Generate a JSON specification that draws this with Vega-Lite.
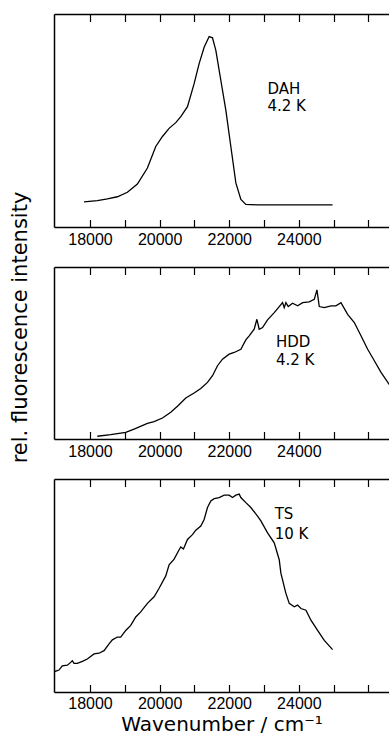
{
  "$schema": "https://vega.github.io/schema/vega-lite/v6.json",
  "padding": {"left": 8, "top": 13, "right": 0, "bottom": 0},
  "background": "white",
  "config": {
    "view": {"stroke": null},
    "axis": {
      "domainColor": "black", "domainWidth": 1.5,
      "tickColor": "black", "tickWidth": 1.2,
      "grid": false, "labelColor": "black", "titleColor": "black"
    }
  },
  "datasets": {
    "dah": [
      {"wn": 17827, "I": 11.8}, {"wn": 18211, "I": 12.4}, {"wn": 18499, "I": 13.2},
      {"wn": 18786, "I": 14.2}, {"wn": 19074, "I": 16.3}, {"wn": 19361, "I": 20.2},
      {"wn": 19649, "I": 27.7}, {"wn": 19889, "I": 37.8}, {"wn": 20081, "I": 42.5},
      {"wn": 20272, "I": 46.3}, {"wn": 20464, "I": 49.0}, {"wn": 20608, "I": 51.8},
      {"wn": 20800, "I": 56.5}, {"wn": 20991, "I": 67.3}, {"wn": 21135, "I": 76.7},
      {"wn": 21279, "I": 84.4}, {"wn": 21423, "I": 89.4}, {"wn": 21519, "I": 88.8},
      {"wn": 21615, "I": 82.9}, {"wn": 21758, "I": 68.9}, {"wn": 21902, "I": 54.9},
      {"wn": 22046, "I": 37.8}, {"wn": 22190, "I": 20.7}, {"wn": 22334, "I": 12.9},
      {"wn": 22477, "I": 10.6}, {"wn": 22813, "I": 10.4}, {"wn": 23772, "I": 10.4},
      {"wn": 24970, "I": 10.4}
    ],
    "hdd": [
      {"wn": 18211, "I": 1.6}, {"wn": 18594, "I": 2.5}, {"wn": 19026, "I": 3.9},
      {"wn": 19266, "I": 5.8}, {"wn": 19649, "I": 9.1}, {"wn": 19841, "I": 10.1},
      {"wn": 20081, "I": 12.2}, {"wn": 20320, "I": 15.5}, {"wn": 20512, "I": 19.0},
      {"wn": 20752, "I": 23.8}, {"wn": 20991, "I": 26.7}, {"wn": 21183, "I": 29.4},
      {"wn": 21375, "I": 32.9}, {"wn": 21519, "I": 36.8}, {"wn": 21663, "I": 42.6},
      {"wn": 21806, "I": 46.4}, {"wn": 21998, "I": 49.3}, {"wn": 22142, "I": 50.3},
      {"wn": 22334, "I": 52.2}, {"wn": 22477, "I": 57.6}, {"wn": 22573, "I": 60.0},
      {"wn": 22717, "I": 63.8}, {"wn": 22794, "I": 69.6}, {"wn": 22861, "I": 63.8},
      {"wn": 22957, "I": 64.8}, {"wn": 23101, "I": 69.3}, {"wn": 23293, "I": 73.5},
      {"wn": 23436, "I": 77.0}, {"wn": 23532, "I": 79.3}, {"wn": 23580, "I": 76.4},
      {"wn": 23628, "I": 79.3}, {"wn": 23695, "I": 77.0}, {"wn": 23820, "I": 78.9},
      {"wn": 23964, "I": 77.4}, {"wn": 24108, "I": 79.3}, {"wn": 24299, "I": 79.7},
      {"wn": 24443, "I": 81.2}, {"wn": 24520, "I": 86.7}, {"wn": 24587, "I": 77.0},
      {"wn": 24731, "I": 76.4}, {"wn": 24923, "I": 77.4}, {"wn": 25066, "I": 77.4},
      {"wn": 25210, "I": 79.3}, {"wn": 25402, "I": 72.5}, {"wn": 25594, "I": 67.7},
      {"wn": 25785, "I": 60.0}, {"wn": 25977, "I": 52.2}, {"wn": 26169, "I": 45.5},
      {"wn": 26361, "I": 38.7}, {"wn": 26619, "I": 31.0}, {"wn": 26744, "I": 27.1}
    ],
    "ts": [
      {"wn": 16965, "I": 9.5}, {"wn": 17108, "I": 10.3}, {"wn": 17204, "I": 12.3},
      {"wn": 17348, "I": 12.6}, {"wn": 17444, "I": 13.9}, {"wn": 17492, "I": 14.7},
      {"wn": 17540, "I": 13.4}, {"wn": 17636, "I": 13.4}, {"wn": 17779, "I": 14.4},
      {"wn": 17923, "I": 15.5}, {"wn": 18115, "I": 17.9}, {"wn": 18259, "I": 18.2},
      {"wn": 18403, "I": 19.4}, {"wn": 18547, "I": 22.6}, {"wn": 18642, "I": 24.5},
      {"wn": 18786, "I": 25.8}, {"wn": 18882, "I": 25.8}, {"wn": 19026, "I": 28.9},
      {"wn": 19170, "I": 31.3}, {"wn": 19314, "I": 35.2}, {"wn": 19457, "I": 37.6},
      {"wn": 19649, "I": 41.6}, {"wn": 19841, "I": 44.7}, {"wn": 19985, "I": 48.7},
      {"wn": 20176, "I": 54.5}, {"wn": 20272, "I": 59.7}, {"wn": 20416, "I": 62.4},
      {"wn": 20560, "I": 66.8}, {"wn": 20608, "I": 68.1}, {"wn": 20685, "I": 67.1},
      {"wn": 20800, "I": 71.6}, {"wn": 20943, "I": 73.9}, {"wn": 21039, "I": 76.0},
      {"wn": 21183, "I": 77.9}, {"wn": 21279, "I": 81.0}, {"wn": 21375, "I": 86.6},
      {"wn": 21471, "I": 89.7}, {"wn": 21567, "I": 90.8}, {"wn": 21711, "I": 91.3},
      {"wn": 21854, "I": 92.4}, {"wn": 21998, "I": 92.4}, {"wn": 22094, "I": 91.3},
      {"wn": 22190, "I": 92.4}, {"wn": 22286, "I": 92.9}, {"wn": 22334, "I": 91.3},
      {"wn": 22477, "I": 88.9}, {"wn": 22621, "I": 86.6}, {"wn": 22813, "I": 82.6},
      {"wn": 22909, "I": 80.3}, {"wn": 23101, "I": 74.7}, {"wn": 23293, "I": 70.0},
      {"wn": 23436, "I": 62.1}, {"wn": 23484, "I": 55.8}, {"wn": 23628, "I": 46.3},
      {"wn": 23724, "I": 41.6}, {"wn": 23868, "I": 40.0}, {"wn": 23964, "I": 40.8},
      {"wn": 24060, "I": 39.2}, {"wn": 24204, "I": 38.4}, {"wn": 24347, "I": 33.7},
      {"wn": 24539, "I": 28.9}, {"wn": 24731, "I": 24.2}, {"wn": 24970, "I": 19.9}
    ],
    "labels": [
      {"panel": "DAH", "wn": 23099, "I": 65.0, "t": "DAH\n4.2 K"},
      {"panel": "HDD", "wn": 23343, "I": 56.3, "t": "HDD\n4.2 K"},
      {"panel": "TS", "wn": 23306, "I": 83.4, "t": "TS\n10 K"}
    ]
  },
  "bounds": "flush",
  "spacing": 40,
  "vconcat": [
    {
      "width": 336, "height": 213,
      "resolve": {"axis": {"x": "independent"}},
      "layer": [
        {
          "data": {"name": "dah"},
          "mark": {"type": "line", "color": "black", "strokeWidth": 1.3, "clip": true},
          "encoding": {
            "x": {"field": "wn", "type": "quantitative",
              "scale": {"domain": [16965, 26619], "nice": false, "zero": false},
              "axis": {"orient": "bottom", "values": [18000, 19000, 20000, 21000, 22000, 23000, 24000, 25000, 26000],
                "tickSize": -7.5, "labelPadding": 12.2, "labelFont": "Liberation Sans", "labelFontSize": 16,
                "labelExpr": "datum.value % 2000 == 0 && datum.value <= 24000 ? format(datum.value, 'd') : ''",
                "labelFlush": false, "labelOverlap": false, "title": null}},
            "y": {"field": "I", "type": "quantitative",
              "scale": {"domain": [0, 100], "nice": false, "zero": false},
              "axis": {"ticks": false, "labels": false, "title": null}}
          }
        },
        {
          "data": {"name": "labels"},
          "transform": [{"filter": "datum.panel == 'DAH'"}],
          "mark": {"type": "text", "font": "DejaVu Sans", "fontSize": 15, "color": "black", "align": "left", "baseline": "middle", "lineBreak": "\n", "lineHeight": 17.5},
          "encoding": {
            "x": {"field": "wn", "type": "quantitative",
              "scale": {"domain": [16965, 26619], "nice": false, "zero": false},
              "axis": {"orient": "top", "values": [18000, 19000, 20000, 21000, 22000, 23000, 24000, 25000, 26000],
                "tickSize": -7.5, "labels": false, "title": null}},
            "y": {"field": "I", "type": "quantitative",
              "scale": {"domain": [0, 100], "nice": false, "zero": false},
              "axis": {"ticks": false, "labels": false, "title": null}},
            "text": {"field": "t"}
          }
        }
      ]
    },
    {
      "width": 336, "height": 172,
      "resolve": {"axis": {"x": "independent"}},
      "layer": [
        {
          "data": {"name": "hdd"},
          "mark": {"type": "line", "color": "black", "strokeWidth": 1.3, "clip": true},
          "encoding": {
            "x": {"field": "wn", "type": "quantitative",
              "scale": {"domain": [16965, 26619], "nice": false, "zero": false},
              "axis": {"orient": "bottom", "values": [18000, 19000, 20000, 21000, 22000, 23000, 24000, 25000, 26000],
                "tickSize": -7.5, "labelPadding": 12.2, "labelFont": "Liberation Sans", "labelFontSize": 16,
                "labelExpr": "datum.value % 2000 == 0 && datum.value <= 24000 ? format(datum.value, 'd') : ''",
                "labelFlush": false, "labelOverlap": false, "title": null}},
            "y": {"field": "I", "type": "quantitative",
              "scale": {"domain": [0, 100], "nice": false, "zero": false},
              "axis": {"ticks": false, "labels": false, "title": "rel. fluorescence intensity",
                "titleFont": "DejaVu Sans", "titleFontSize": 21, "titleFontWeight": "normal",
                "titleX": -28, "titleY": 60, "titleBaseline": "alphabetic", "titleAngle": -90, "titleAlign": "center"}}
          }
        },
        {
          "data": {"name": "labels"},
          "transform": [{"filter": "datum.panel == 'HDD'"}],
          "mark": {"type": "text", "font": "DejaVu Sans", "fontSize": 15, "color": "black", "align": "left", "baseline": "middle", "lineBreak": "\n", "lineHeight": 18},
          "encoding": {
            "x": {"field": "wn", "type": "quantitative",
              "scale": {"domain": [16965, 26619], "nice": false, "zero": false},
              "axis": {"orient": "top", "values": [18000, 19000, 20000, 21000, 22000, 23000, 24000, 25000, 26000],
                "tickSize": -7.5, "labels": false, "title": null}},
            "y": {"field": "I", "type": "quantitative",
              "scale": {"domain": [0, 100], "nice": false, "zero": false},
              "axis": {"ticks": false, "labels": false, "title": "rel. fluorescence intensity",
                "titleFont": "DejaVu Sans", "titleFontSize": 21, "titleFontWeight": "normal",
                "titleX": -28, "titleY": 60, "titleBaseline": "alphabetic", "titleAngle": -90, "titleAlign": "center"}},
            "text": {"field": "t"}
          }
        }
      ]
    },
    {
      "width": 336, "height": 213,
      "resolve": {"axis": {"x": "independent"}},
      "layer": [
        {
          "data": {"name": "ts"},
          "mark": {"type": "line", "color": "black", "strokeWidth": 1.3, "clip": true},
          "encoding": {
            "x": {"field": "wn", "type": "quantitative",
              "scale": {"domain": [16965, 26619], "nice": false, "zero": false},
              "axis": {"orient": "bottom", "values": [18000, 19000, 20000, 21000, 22000, 23000, 24000, 25000, 26000],
                "tickSize": -7.5, "labelPadding": 11, "labelFont": "Liberation Sans", "labelFontSize": 16,
                "labelExpr": "datum.value % 2000 == 0 && datum.value <= 24000 ? format(datum.value, 'd') : ''",
                "labelFlush": false, "labelOverlap": false,
                "title": "Wavenumber / cm⁻¹", "titleFont": "DejaVu Sans", "titleFontSize": 20, "titleFontWeight": "normal",
                "titleX": 167.5, "titleY": 38, "titleBaseline": "alphabetic", "titleAlign": "center"}},
            "y": {"field": "I", "type": "quantitative",
              "scale": {"domain": [0, 100], "nice": false, "zero": false},
              "axis": {"ticks": false, "labels": false, "title": null}}
          }
        },
        {
          "data": {"name": "labels"},
          "transform": [{"filter": "datum.panel == 'TS'"}],
          "mark": {"type": "text", "font": "DejaVu Sans", "fontSize": 15, "color": "black", "align": "left", "baseline": "middle", "lineBreak": "\n", "lineHeight": 19.2},
          "encoding": {
            "x": {"field": "wn", "type": "quantitative",
              "scale": {"domain": [16965, 26619], "nice": false, "zero": false},
              "axis": {"orient": "top", "values": [18000, 19000, 20000, 21000, 22000, 23000, 24000, 25000, 26000],
                "tickSize": -7.5, "labels": false, "title": null}},
            "y": {"field": "I", "type": "quantitative",
              "scale": {"domain": [0, 100], "nice": false, "zero": false},
              "axis": {"ticks": false, "labels": false, "title": null}},
            "text": {"field": "t"}
          }
        }
      ]
    }
  ]
}
